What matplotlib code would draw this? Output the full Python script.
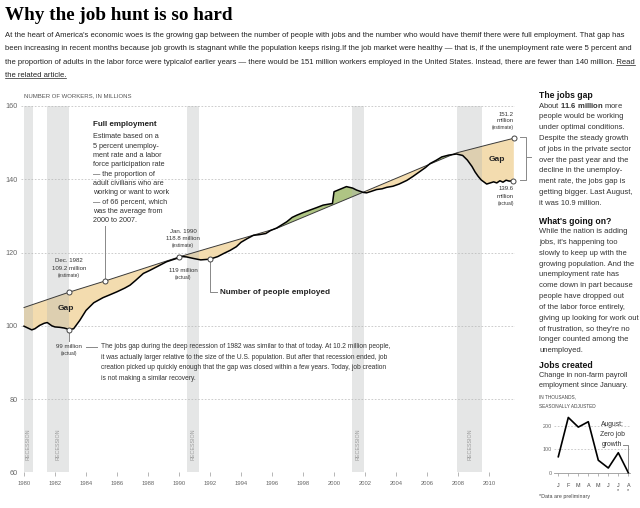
import matplotlib.pyplot as plt
import numpy as np
from matplotlib.lines import Line2D

plt.rcParams['font.family'] = ['Liberation Sans', 'DejaVu Sans']
plt.rcParams['mathtext.fontset'] = 'custom'
plt.rcParams['mathtext.rm'] = 'Liberation Sans'
plt.rcParams['mathtext.bf'] = 'Liberation Sans:bold'

W, H = 640, 508

# full employment estimate, millions of workers
full_years = [1980.0, 1982.92, 1985.2, 1990.0, 1992.0, 1994.8, 1996.3,
              2001.9, 2007.9, 2009.0, 2010.0, 2011.6]
full_vals = [105.0, 109.2, 112.2, 118.8, 121.3, 124.75, 126.6,
             136.5, 147.2, 148.4, 149.5, 151.2]

# number of people employed, millions
emp_years = [1980.0, 1980.3, 1980.5, 1980.7, 1981.0, 1981.3, 1981.5, 1981.8,
             1982.0, 1982.3, 1982.6, 1982.92, 1983.2, 1983.6, 1984.0, 1984.5,
             1985.1, 1985.5, 1986.0, 1986.5, 1986.84, 1987.2, 1987.7, 1988.1,
             1988.56, 1989.2, 1989.85, 1990.0, 1990.5, 1990.92, 1991.4, 1992.0,
             1992.5, 1992.86, 1993.3, 1993.7, 1994.0, 1994.4, 1994.8, 1995.2,
             1995.6, 1995.9, 1996.3, 1996.95, 1997.3, 1997.6, 1998.0, 1998.45,
             1998.9, 1999.3, 1999.9, 2000.0, 2000.4, 2000.8, 2001.2, 2001.46,
             2001.9, 2002.1, 2002.4, 2002.75, 2003.1, 2003.4, 2003.8, 2004.2,
             2004.7, 2005.1, 2005.5, 2005.9, 2006.2, 2006.6, 2006.95, 2007.4,
             2007.9, 2008.3, 2008.6, 2008.9, 2009.1, 2009.3, 2009.5, 2009.85,
             2010.0, 2010.3, 2010.5, 2010.7, 2010.9, 2011.1, 2011.3, 2011.57]
emp_vals = [99.9, 99.3, 98.9, 99.2, 100.1, 100.7, 100.9, 100.0,
            99.7, 99.6, 99.4, 99.0, 99.2, 101.5, 104.2, 106.3,
            107.7, 108.4, 109.3, 110.3, 111.1, 112.4, 114.3, 115.1,
            116.1, 117.5, 118.4, 119.0, 118.8, 118.4, 118.0, 118.2,
            118.9, 119.7, 120.6, 121.6, 122.8, 123.8, 124.7, 124.9,
            125.2, 126.0, 126.7, 128.4, 129.6, 130.2, 130.9, 131.6,
            132.3, 132.95, 133.4, 136.6, 137.3, 138.0, 137.6, 137.05,
            136.4, 136.3, 136.7, 137.2, 137.4, 137.8, 138.1, 138.7,
            139.7, 140.8, 142.0, 143.2, 144.3, 145.2, 146.1, 146.6,
            146.9, 146.5, 145.25, 143.5, 142.0, 140.8, 139.8, 138.7,
            138.9, 139.3, 139.0, 139.6, 139.2, 139.75, 139.5, 139.6]

recessions = [(1980.0, 1980.58), (1981.48, 1982.9), (1990.52, 1991.29),
              (2001.16, 2001.94), (2007.94, 2009.55)]

# jobs created 2011, thousands
months = ['J', 'F', 'M', 'A', 'M', 'J', 'J\n*', 'A\n*']
jobs_created = [68, 235, 194, 217, 53, 20, 85, 0]

TAN = '#f3dcaf'
GREEN = '#afc584'
TXT = '#333333'
GREY = '#666666'

fig = plt.figure(figsize=(W / 100, H / 100), dpi=100)


def txt(x, y, s, size=5.0, weight='normal', color=TXT, ha='left', va='center', **kw):
    return fig.text(x / W, 1 - y / H, s, fontsize=size, fontweight=weight,
                    color=color, ha=ha, va=va, **kw)


def pxline(xs, ys, color='#888888', lw=0.7):
    fig.add_artist(Line2D([x / W for x in xs], [1 - y / H for y in ys],
                          transform=fig.transFigure, color=color, lw=lw))


# ---- header
txt(5, 16, 'Why the job hunt is so hard', size=13.8, weight='bold', color='black',
    family='Liberation Serif')
intro = [
    "At the heart of America's economic woes is the growing gap between the number of people with jobs and the number who would have themif there were full employment. That gap has",
    "been increasing in recent months because job growth is stagnant while the population keeps rising.If the job market were healthy \u2014 that is, if the unemployment rate were 5 percent and",
    "the proportion of adults in the labor force were typicalof earlier years \u2014 there would be 151 million workers employed in the United States. Instead, there are fewer than 140 million. Read",
    "the related article.",
]
intro_texts = [txt(5, 35.5 + i * 13.35, line, size=5.5, color='#222222') for i, line in enumerate(intro)]

# ---- main chart
ax = fig.add_axes([20.9 / W, 1 - 472.4 / H, 493.7 / W, (472.4 - 106) / H])
ax.set_xlim(1979.8, 2011.65)
ax.set_ylim(60, 160)
for s in ax.spines.values():
    s.set_visible(False)

for v in range(60, 161, 20):
    ax.axhline(v, color='#c4c4c4', lw=0.6, ls=(0, (2, 2)), zorder=1)

for a, b in recessions:
    ax.axvspan(a, b, color='#b0b4b4', alpha=0.32, lw=0, zorder=2.5)
    ax.text((a + b) / 2, 67.6, 'RECESSION', rotation=90, fontsize=3.9,
            color='#9a9a9a', ha='center', va='center', zorder=3)

xs = np.union1d(emp_years, full_years)
act = np.interp(xs, emp_years, emp_vals)
est = np.interp(xs, full_years, full_vals)
ax.fill_between(xs, act, est, where=act <= est, interpolate=True, color=TAN, lw=0, zorder=2)
ax.fill_between(xs, act, est, where=act >= est, interpolate=True, color=GREEN, lw=0, zorder=2)
ax.plot(full_years, full_vals, color='#3a3a3a', lw=0.7, zorder=3)
ax.plot(emp_years, emp_vals, color='black', lw=1.1, zorder=3.2)

ax.set_yticks(range(60, 161, 20))
ax.set_xticks(range(1980, 2011, 2))
ax.tick_params(axis='y', length=0, pad=2.2, labelsize=5.2, labelcolor=GREY)
ax.tick_params(axis='x', length=3, width=0.5, color='#999999', pad=3.5,
               labelsize=4.2, labelcolor=GREY)


def mark(x, y):
    ax.plot([x], [y], 'o', ms=3.6, mfc='white', mec='#444444', mew=0.7,
            zorder=5, clip_on=False)


mark(1982.92, np.interp(1982.92, full_years, full_vals))
mark(1982.92, np.interp(1982.92, emp_years, emp_vals))
mark(1985.2, np.interp(1985.2, full_years, full_vals))
mark(1990.0, np.interp(1990.0, full_years, full_vals))
mark(1992.0, np.interp(1992.0, emp_years, emp_vals))
mark(full_years[-1], full_vals[-1])
mark(emp_years[-1], emp_vals[-1])

# leader lines
ax.plot([1985.2, 1985.2], [112.9, 127.2], color='#888888', lw=0.7, zorder=4)
ax.plot([1982.92, 1982.92], [95.8, 98.3], color='#888888', lw=0.7, zorder=4, clip_on=False)
ax.plot([1992.0, 1992.0, 1992.45], [117.5, 109.2, 109.2], color='#888888', lw=0.7, zorder=4)

txt(24, 96, 'NUMBER OF WORKERS, IN MILLIONS', size=4.3, color='#555555')

txt(93, 125, 'Full employment', size=5.8, weight='bold', color='#222222')
fe_lines = ['Estimate based on a', '5 percent unemploy-', 'ment rate and a labor',
            'force participation rate', '\u2014 the proportion of', 'adult civilians who are',
            'working or want to work', '\u2014 of 66 percent, which', 'was the average from',
            '2000 to 2007.']
for i, line in enumerate(fe_lines):
    txt(93, 136.7 + i * 9.33, line, size=5.2)

txt(69, 261, 'Dec. 1982', size=4.4, ha='center')
txt(69, 268, '109.2 million', size=4.4, ha='center')
txt(69, 276, '(estimate)', size=3.5, ha='center')
txt(69, 346.7, '99 million', size=4.4, ha='center')
txt(69, 354, '(actual)', size=3.5, ha='center')
pxline([86, 97], [347, 347])
para = ['The jobs gap during the deep recession of 1982 was similar to that of today. At 10.2 million people,',
        'it was actually larger relative to the size of the U.S. population. But after that recession ended, job',
        'creation picked up quickly enough that the gap was closed within a few years. Today, job creation',
        'is not making a similar recovery.']
for i, line in enumerate(para):
    txt(101, 346.7 + i * 10.5, line, size=4.8)

txt(66, 308, 'Gap', size=6.0, weight='bold', color='#222222', ha='center')
txt(497, 159.5, 'Gap', size=6.0, weight='bold', color='#222222', ha='center')

txt(183, 231, 'Jan. 1990', size=4.4, ha='center')
txt(183, 238, '118.8 million', size=4.4, ha='center')
txt(183, 246, '(estimate)', size=3.5, ha='center')
txt(183, 271, '119 million', size=4.4, ha='center')
txt(183, 278, '(actual)', size=3.5, ha='center')
txt(220, 292, 'Number of people employed', size=5.9, weight='bold', color='#222222')

txt(514, 114, '151.2', size=4.3, ha='right')
txt(514, 121, 'million', size=4.3, ha='right')
txt(514, 128, '(estimate)', size=3.5, ha='right')
txt(514, 189, '139.6', size=4.3, ha='right')
txt(514, 196, 'million', size=4.3, ha='right')
txt(514, 203, '(actual)', size=3.5, ha='right')

pxline([520, 525.5, 525.5, 520], [137, 137, 179.5, 179.5])
pxline([525.5, 531], [157.3, 157.3])

# ---- sidebar
txt(539, 95, 'The jobs gap', size=6.2, weight='bold', color='#111111')
gap_lines = ['About $\\bf{11.6\\ million}$ more', 'people would be working',
             'under optimal conditions.', 'Despite the steady growth',
             'of jobs in the private sector', 'over the past year and the',
             'decline in the unemploy-', 'ment rate, the jobs gap is',
             'getting bigger. Last August,', 'it was 10.9 million.']
for i, line in enumerate(gap_lines):
    # mathtext line sits a touch to the right, nudge it back
    txt(537.5 if i == 0 else 539, 106 + i * 10.81, line, size=5.5)

txt(539, 221, "What's going on?", size=6.2, weight='bold', color='#111111')
going_lines = ['While the nation is adding', "jobs, it's happening too",
               'slowly to keep up with the', 'growing population. And the',
               'unemployment rate has', 'come down in part because',
               'people have dropped out', 'of the labor force entirely,',
               'giving up looking for work out', "of frustration, so they're no",
               'longer counted among the', 'unemployed.']
for i, line in enumerate(going_lines):
    txt(539, 231.7 + i * 10.82, line, size=5.5)

txt(539, 366, 'Jobs created', size=6.2, weight='bold', color='#111111')
txt(539, 375.5, 'Change in non-farm payroll', size=5.3)
txt(539, 385.5, 'employment since January.', size=5.3)
txt(539, 397, 'IN THOUSANDS,', size=3.4, color='#444444')
txt(539, 406.5, 'SEASONALLY ADJUSTED', size=3.4, color='#444444')
txt(539, 496.7, '*Data are preliminary', size=3.9, color='#444444')

ix = fig.add_axes([554.3 / W, 1 - 472.7 / H, 76 / W, (472.7 - 413.95) / H])
ix.set_xlim(-0.4, 7.2)
ix.set_ylim(0, 250)
for s in ['top', 'right', 'left']:
    ix.spines[s].set_visible(False)
ix.spines['bottom'].set_color('#999999')
ix.spines['bottom'].set_linewidth(0.6)
for v in [100, 200]:
    ix.axhline(v, color='#c4c4c4', lw=0.6, ls=(0, (2, 2)), zorder=1)
ix.plot(range(len(jobs_created)), jobs_created, color='black', lw=1.2, zorder=3, clip_on=False)
ix.set_xticks(range(len(months)))
ix.set_xticklabels(months, linespacing=0.9)
ix.set_yticks([0, 100, 200])
ix.tick_params(axis='y', length=0, pad=1.5, labelsize=3.9, labelcolor=GREY)
ix.tick_params(axis='x', length=2.5, width=0.5, color='#999999', pad=5,
               labelsize=3.9, labelcolor='#444444')

txt(612.3, 425, 'August:', size=4.9, ha='center')
txt(612.3, 435, 'Zero job', size=4.9, ha='center')
txt(612.3, 444.5, 'growth', size=4.9, ha='center')
pxline([622.5, 628.3, 628.3], [444.5, 444.5, 470])

# underline the link words
fig.canvas.draw()
r = fig.canvas.get_renderer()
bb3 = intro_texts[2].get_window_extent(r)
probe = txt(0, 0, 'Read', size=5.5)
wr = probe.get_window_extent(r).width
probe.remove()
bb4 = intro_texts[3].get_window_extent(r)
for x0, x1, y in [(bb3.x1 - wr, bb3.x1, bb3.y0 + 1.2), (bb4.x0, bb4.x1, bb4.y0 + 1.2)]:
    fig.add_artist(Line2D([x0 / W, x1 / W], [y / H, y / H], transform=fig.transFigure,
                          color='#222222', lw=0.5))

fig.savefig('out.png', dpi=100)
